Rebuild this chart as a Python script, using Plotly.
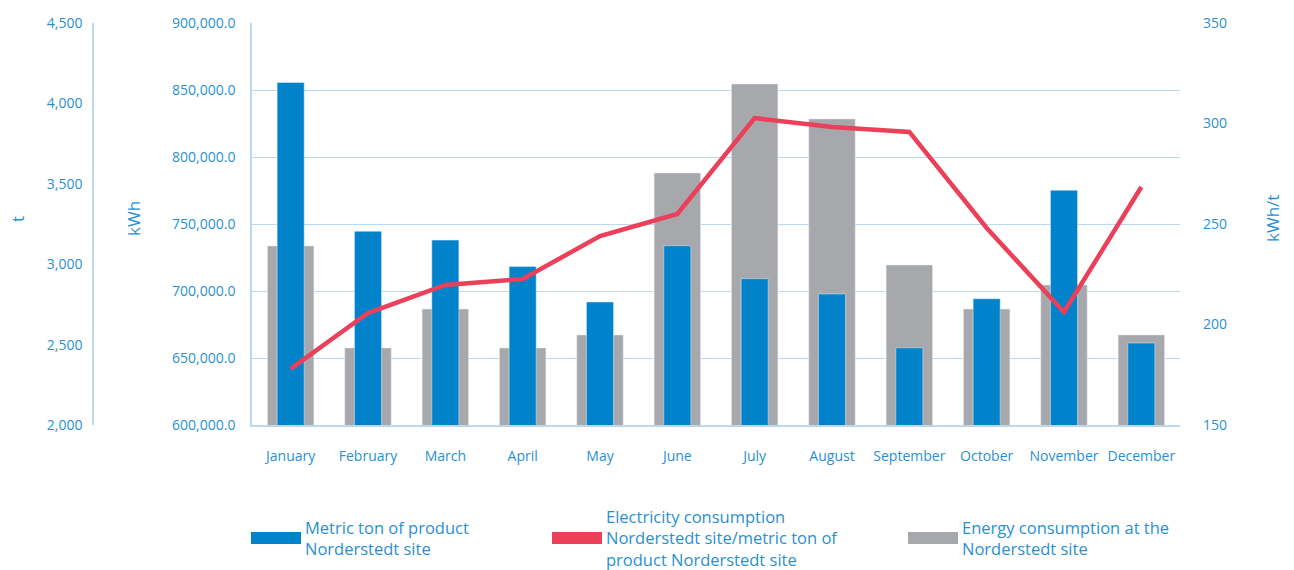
import plotly.graph_objects as go

months = ["January", "February", "March", "April", "May", "June", "July",
          "August", "September", "October", "November", "December"]
tons = [4130, 3205, 3150, 2985, 2765, 3115, 2910, 2815, 2480, 2785, 3460, 2510]
energy_kwh = [733600, 657500, 686500, 657500, 667200, 788000, 854500,
              828400, 719400, 686500, 704500, 667200]
kwh_per_t = [177.9, 205.7, 219.7, 222.6, 244.0, 255.0, 302.7, 298.3,
             295.8, 248.0, 206.2, 268.4]

BLUE = "#0083ca"
GREY = "#a7a8ab"
RED = "#ea405a"
TXT = "#2a8fd2"
GRID = "#bcd8ef"
FONT = "Open Sans"

W, H = 1294, 570
PL, PR, PT, PB = 252, 1180, 23, 425


def px(x):
    return x / W


def py(y):
    return (PB - y) / (PB - PT)


fig = go.Figure()
fig.add_trace(go.Bar(x=months, y=energy_kwh, yaxis="y", marker_color=GREY,
                     width=0.6, name="Energy consumption at the Norderstedt site",
                     showlegend=False))
fig.add_trace(go.Bar(x=months, y=tons, yaxis="y2", marker_color=BLUE,
                     width=0.35, name="Metric ton of product Norderstedt site",
                     showlegend=False))
fig.add_trace(go.Scatter(x=months, y=kwh_per_t, yaxis="y3", mode="lines",
                         line=dict(color=RED, width=4.5),
                         name="Electricity consumption Norderstedt site/metric ton of product Norderstedt site",
                         showlegend=False))

tickfont = dict(family=FONT, size=14, color=TXT)

fig.update_layout(
    width=W, height=H,
    margin=dict(l=0, r=0, t=PT, b=H - PB),
    paper_bgcolor="white", plot_bgcolor="white",
    barmode="overlay",
    font=dict(family=FONT, color=TXT),
    xaxis=dict(domain=[px(PL), px(PR)], range=[-0.5, 11.5], showgrid=False,
               showline=True, linecolor=GRID, linewidth=1.5, ticks="",
               tickfont=tickfont, ticklabelstandoff=17, zeroline=False),
    yaxis=dict(range=[600000, 900000], dtick=50000, tickformat=",.1f",
               showgrid=True, gridcolor=GRID, gridwidth=1.2, showline=True,
               linecolor=GRID, linewidth=1.5, ticks="", tickfont=tickfont,
               ticklabelstandoff=12, zeroline=False),
    yaxis2=dict(range=[2000, 4500], dtick=500, tickformat=",d",
                overlaying="y", anchor="free", side="left", position=px(93),
                showgrid=False, showline=True, linecolor=GRID, linewidth=1.5,
                ticks="", tickfont=tickfont, ticklabelstandoff=7, zeroline=False),
    yaxis3=dict(range=[150, 350], dtick=50, overlaying="y", anchor="x",
                side="right", showgrid=False, showline=False, ticks="",
                tickfont=tickfont, ticklabelstandoff=22, zeroline=False),
)

# axis titles
for txt, x in [("t", 17), ("kWh", 133), ("kWh/t", 1272)]:
    fig.add_annotation(text=txt, x=px(x), y=py(219), xref="paper", yref="paper",
                       xanchor="center", yanchor="middle",
                       showarrow=False, textangle=-90,
                       font=dict(family=FONT, size=17, color=TXT))

# legend
legend_items = [
    (251, BLUE, "Metric ton of product<br>Norderstedt site"),
    (552, RED, "Electricity consumption<br>Norderstedt site/metric ton of<br>product Norderstedt site"),
    (908, GREY, "Energy consumption at the<br>Norderstedt site"),
]
for x0, col, label in legend_items:
    fig.add_shape(type="rect", xref="paper", yref="paper",
                  x0=px(x0), x1=px(x0 + 50), y0=py(544), y1=py(532),
                  fillcolor=col, line=dict(width=0))
    fig.add_annotation(text=label, x=px(x0 + 52), y=py(538), xref="paper",
                       yref="paper", xanchor="left", yanchor="middle",
                       align="left", showarrow=False,
                       font=dict(family=FONT, size=16.5, color=TXT))

fig.write_html("out.html")
